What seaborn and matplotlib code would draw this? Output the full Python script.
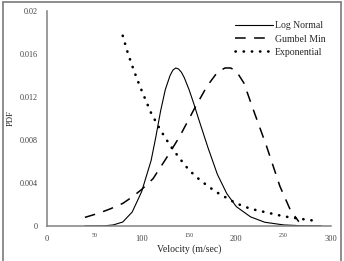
import matplotlib
matplotlib.use("Agg")
import matplotlib.pyplot as plt
import seaborn as sns
import pandas as pd
from matplotlib.lines import Line2D
from matplotlib.ticker import FixedLocator, FixedFormatter

# ---- data ----
lognorm_x = [40, 60, 70, 80, 90, 100, 110, 115, 120, 125, 130, 133, 136, 139, 142, 145,
             150, 155, 160, 170, 180, 190, 200, 215, 230, 250, 270, 290]
lognorm_y = [0.0, 0.00001, 0.0001, 0.00037, 0.0013, 0.0032, 0.0061, 0.0083, 0.0107,
             0.0127, 0.0140, 0.0145, 0.0147, 0.0146, 0.0143, 0.0138, 0.0127, 0.0114,
             0.0100, 0.0073, 0.0048, 0.0030, 0.0018, 0.00085, 0.00035, 0.0001,
             0.00002, 0.0]

gumbel_x = [40, 55, 67, 80, 90, 100, 112, 126, 140, 155, 169, 180, 188, 194, 200, 208,
            218, 232, 246, 257, 266]
gumbel_y = [0.0008, 0.0012, 0.0016, 0.0021, 0.0027, 0.0034, 0.0044, 0.0063, 0.0083,
            0.0108, 0.0130, 0.0143, 0.0147, 0.0147, 0.0144, 0.0133, 0.0108, 0.0074,
            0.0037, 0.0015, 0.0004]

expo_x = [80, 85, 90, 95, 100, 110, 120, 130, 140, 150, 160, 170, 180, 190, 200,
          215, 230, 250, 265, 282]
expo_y = [0.0177, 0.0162, 0.0149, 0.0137, 0.0126, 0.0105, 0.0089, 0.0075, 0.0063,
          0.0052, 0.0044, 0.0037, 0.0031, 0.0026, 0.0021, 0.0016, 0.0013, 0.0009,
          0.0007, 0.0005]

series_names = ["Log Normal", "Gumbel Min", "Exponential"]
x_major = [0, 100, 200, 300]
x_minor = [50, 150, 250]
y_major = [0, 0.004, 0.008, 0.012, 0.016, 0.02]
y_major_labels = ["0", "0.004", "0.008", "0.012", "0.016", "0.02"]
y_minor = [0.002, 0.006, 0.010, 0.014, 0.018]
x_label = "Velocity (m/sec)"
y_label = "PDF"

# ---- style ----
sns.set_style("white")
plt.rcParams["font.family"] = ["Liberation Serif", "DejaVu Serif"]

fig = plt.figure(figsize=(3.44, 2.61), dpi=100)
ax = fig.add_axes([47 / 344, 1 - 226 / 261, (331 - 47) / 344, (226 - 11) / 261])

df_ln = pd.DataFrame({"x": lognorm_x, "y": lognorm_y})
df_gm = pd.DataFrame({"x": gumbel_x, "y": gumbel_y})
df_ex = pd.DataFrame({"x": expo_x, "y": expo_y})

sns.lineplot(data=df_ln, x="x", y="y", ax=ax, color="black", lw=0.8,
             label=series_names[0])
sns.lineplot(data=df_gm, x="x", y="y", ax=ax, color="black", lw=1.1,
             label=series_names[1])
sns.lineplot(data=df_ex, x="x", y="y", ax=ax, color="black", lw=1.9,
             label=series_names[2])
lines = ax.get_lines()
lines[1].set_dashes((7, 5.5))
lines[2].set_dashes((0.1, 3.0))
lines[2].set_dash_capstyle("round")

ax.set_xlim(0, 300)
ax.set_ylim(0, 0.02)

ax.xaxis.set_major_locator(FixedLocator(x_major))
ax.xaxis.set_minor_locator(FixedLocator(x_minor))
ax.xaxis.set_minor_formatter(FixedFormatter([str(v) for v in x_minor]))
ax.yaxis.set_major_locator(FixedLocator(y_major))
ax.yaxis.set_major_formatter(FixedFormatter(y_major_labels))
ax.yaxis.set_minor_locator(FixedLocator(y_minor))

spine_col = "#808080"
for s in ["top", "right"]:
    ax.spines[s].set_visible(False)
for s in ["left", "bottom"]:
    ax.spines[s].set_color(spine_col)
    ax.spines[s].set_linewidth(1.1)

lab_col = "#444444"
ax.tick_params(axis="both", which="major", direction="out", length=4.7, width=0.8,
               color=spine_col, labelcolor=lab_col)
ax.tick_params(axis="both", which="minor", direction="out", length=2.5, width=0.8,
               color=spine_col, labelcolor=lab_col)
ax.tick_params(axis="x", which="major", labelsize=6, pad=1.5)
ax.tick_params(axis="x", which="minor", labelsize=4.3, pad=2.5)
ax.tick_params(axis="y", which="major", labelsize=5.9, pad=2.2)

ax.set_xlabel(x_label, fontsize=7, color="#222222", labelpad=1)
ax.set_ylabel(y_label, fontsize=6.2, color="#222222", labelpad=3)

leg = ax.legend(loc="upper right", frameon=False, fontsize=7, handlelength=3.9,
                handletextpad=0.15, labelspacing=0.45,
                bbox_to_anchor=(1.0, 0.98), borderaxespad=0.2)

# figure frame (left, top, right)
frame_col = "#7a7a7a"
fig.add_artist(Line2D([2.5 / 344, 2.5 / 344], [0, 1 - 2 / 261],
                      transform=fig.transFigure, color=frame_col, lw=1.2))
fig.add_artist(Line2D([2.5 / 344, 341 / 344], [1 - 2 / 261, 1 - 2 / 261],
                      transform=fig.transFigure, color=frame_col, lw=1.2))
fig.add_artist(Line2D([341 / 344, 341 / 344], [0, 1 - 2 / 261],
                      transform=fig.transFigure, color=frame_col, lw=1.2))

fig.savefig("out.png", dpi=100)
